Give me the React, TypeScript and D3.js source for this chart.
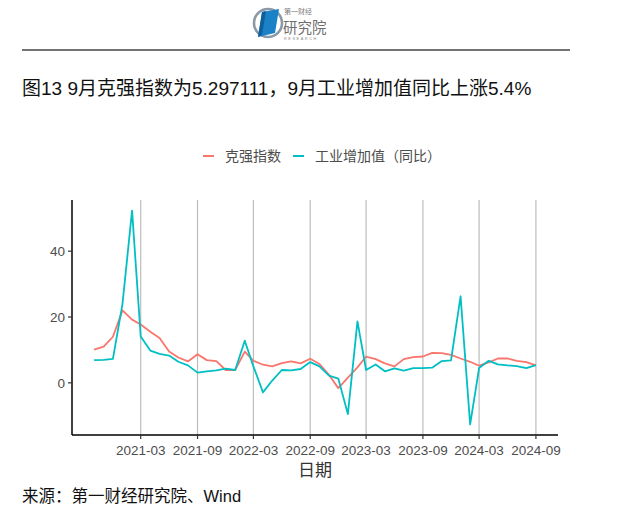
import React from "react";
import * as d3 from "d3";

const months: string[] = [
  "2020-10","2020-11","2020-12","2021-01","2021-02","2021-03","2021-04","2021-05","2021-06","2021-07","2021-08","2021-09",
  "2021-10","2021-11","2021-12","2022-01","2022-02","2022-03","2022-04","2022-05","2022-06","2022-07","2022-08","2022-09",
  "2022-10","2022-11","2022-12","2023-01","2023-02","2023-03","2023-04","2023-05","2023-06","2023-07","2023-08","2023-09",
  "2023-10","2023-11","2023-12","2024-01","2024-02","2024-03","2024-04","2024-05","2024-06","2024-07","2024-08","2024-09",
];

const keqiang: number[] = [
  10.1, 11.0, 14.0, 22.0, 19.2, 17.7, 15.5, 13.6, 9.5, 7.7, 6.5, 8.7,
  6.9, 6.6, 3.9, 3.9, 9.5, 6.7, 5.5, 5.0, 6.0, 6.5, 5.9, 7.3,
  5.7, 2.4, -1.6, 1.6, 4.7, 8.0, 7.2, 5.9, 5.0, 7.2, 7.8, 8.0,
  9.1, 9.0, 8.5, 7.4, 6.4, 5.2, 6.2, 7.4, 7.4, 6.7, 6.3, 5.297111,
];

const industrial: number[] = [
  6.9, 7.0, 7.3, 24.0, 52.3, 14.1, 9.8, 8.8, 8.3, 6.4, 5.3, 3.1,
  3.5, 3.8, 4.3, 3.9, 12.8, 5.0, -2.9, 0.7, 3.9, 3.8, 4.2, 6.3,
  5.0, 2.2, 1.3, -9.5, 18.7, 3.9, 5.6, 3.5, 4.4, 3.7, 4.5, 4.5,
  4.6, 6.6, 6.8, 26.3, -12.6, 4.5, 6.7, 5.6, 5.3, 5.1, 4.5, 5.4,
];

const seriesNames: string[] = ["克强指数", "工业增加值（同比）"];
const seriesColors: string[] = ["#F8766D", "#00BFC4"];
const yTicks: number[] = [0, 20, 40];
const xTickLabels: string[] = ["2021-03","2021-09","2022-03","2022-09","2023-03","2023-09","2024-03","2024-09"];

const titleText = "图13 9月克强指数为5.297111，9月工业增加值同比上涨5.4%";
const sourceText = "来源：第一财经研究院、Wind";
const xAxisTitle = "日期";

const FONT = "'Liberation Sans', Arial, 'Noto Sans CJK SC', sans-serif";
const CJK = "'Noto Sans CJK SC', sans-serif";

export default function App() {
  const parse = d3.timeParse("%Y-%m");
  const dates = months.map((m) => parse(m) as Date);
  const panel = { left: 72, right: 558, top: 200, bottom: 435 };

  const d0 = dates[0].getTime();
  const d1 = dates[dates.length - 1].getTime();
  const pad = (d1 - d0) * 0.05;
  const x = d3.scaleTime().domain([new Date(d0 - pad), new Date(d1 + pad)]).range([panel.left, panel.right]);

  const all = keqiang.concat(industrial);
  const ymin = d3.min(all) as number;
  const ymax = d3.max(all) as number;
  const ypad = (ymax - ymin) * 0.05;
  const y = d3.scaleLinear().domain([ymin - ypad, ymax + ypad]).range([panel.bottom, panel.top]);

  const line = d3
    .line<number>()
    .x((_, i) => x(dates[i]))
    .y((v) => y(v));

  const tickDates = xTickLabels.map((t) => parse(t) as Date);
  const series = [keqiang, industrial];

  return (
    <svg width={640} height={516} viewBox="0 0 640 516" style={{ position: "absolute", left: 0, top: 0, display: "block" }}>
      <rect x={0} y={0} width={640} height={516} fill="#fff" />
      {/* logo */}
      <g>
        <circle cx={268} cy={23} r={14} fill="none" stroke="#8a9aa8" strokeWidth={2.6} />
        <path d="M262,12 L279,9 L275,33 L258,37 Z" fill="#1b82c8" />
        <path d="M262,12 L266,11 L262,35 L258,37 Z" fill="#0f5f9c" />
        <text x={284} y={14} fontSize={7} fill="#7d7d7d" fontFamily={CJK}>第一财经</text>
        <text x={283} y={33} fontSize={14.5} fill="#6f6f6f" fontFamily={CJK}>研究院</text>
        <text x={284} y={40} fontSize={3.8} fill="#888" fontFamily={FONT} letterSpacing={1.6}>RESEARCH</text>
      </g>
      <line x1={22} x2={570} y1={50} y2={50} stroke="#444" strokeWidth={1.5} />
      <text x={22} y={95} fontSize={19} fill="#111" fontFamily={FONT}>{titleText}</text>

      {/* legend */}
      <g fontFamily={CJK} fontSize={14} fill="#4d4d4d">
        <line x1={203} x2={214} y1={156} y2={156} stroke={seriesColors[0]} strokeWidth={2} />
        <text x={225} y={161}>{seriesNames[0]}</text>
        <line x1={293} x2={304} y1={156} y2={156} stroke={seriesColors[1]} strokeWidth={2} />
        <text x={315} y={161}>{seriesNames[1]}</text>
      </g>

      {/* grid */}
      {tickDates.map((d, i) => (
        <line key={"g" + i} x1={x(d)} x2={x(d)} y1={panel.top} y2={panel.bottom} stroke="#bdbdbd" strokeWidth={1.2} />
      ))}

      {/* series */}
      {series.map((s, i) => (
        <path key={"s" + i} d={line(s) || ""} fill="none" stroke={seriesColors[i]} strokeWidth={1.8} strokeLinejoin="round" />
      ))}

      {/* axes */}
      <line x1={panel.left} x2={panel.left} y1={panel.top} y2={panel.bottom} stroke="#000" strokeWidth={1.5} />
      <line x1={panel.left} x2={panel.right} y1={panel.bottom} y2={panel.bottom} stroke="#000" strokeWidth={1.5} />
      {yTicks.map((t) => (
        <g key={"y" + t}>
          <line x1={panel.left - 4} x2={panel.left} y1={y(t)} y2={y(t)} stroke="#333" strokeWidth={1.2} />
          <text x={panel.left - 7} y={y(t) + 5} fontSize={13.5} fill="#4d4d4d" textAnchor="end" fontFamily={FONT}>{t}</text>
        </g>
      ))}
      {tickDates.map((d, i) => (
        <g key={"x" + i}>
          <line x1={x(d)} x2={x(d)} y1={panel.bottom} y2={panel.bottom + 4} stroke="#333" strokeWidth={1.2} />
          <text x={x(d)} y={panel.bottom + 20} fontSize={13.5} fill="#4d4d4d" textAnchor="middle" fontFamily={FONT}>{xTickLabels[i]}</text>
        </g>
      ))}
      <text x={(panel.left + panel.right) / 2} y={476} fontSize={17} fill="#333" textAnchor="middle" fontFamily={CJK}>{xAxisTitle}</text>
      <text x={22} y={502} fontSize={16.5} fill="#111" fontFamily={FONT}>{sourceText}</text>
    </svg>
  );
}
